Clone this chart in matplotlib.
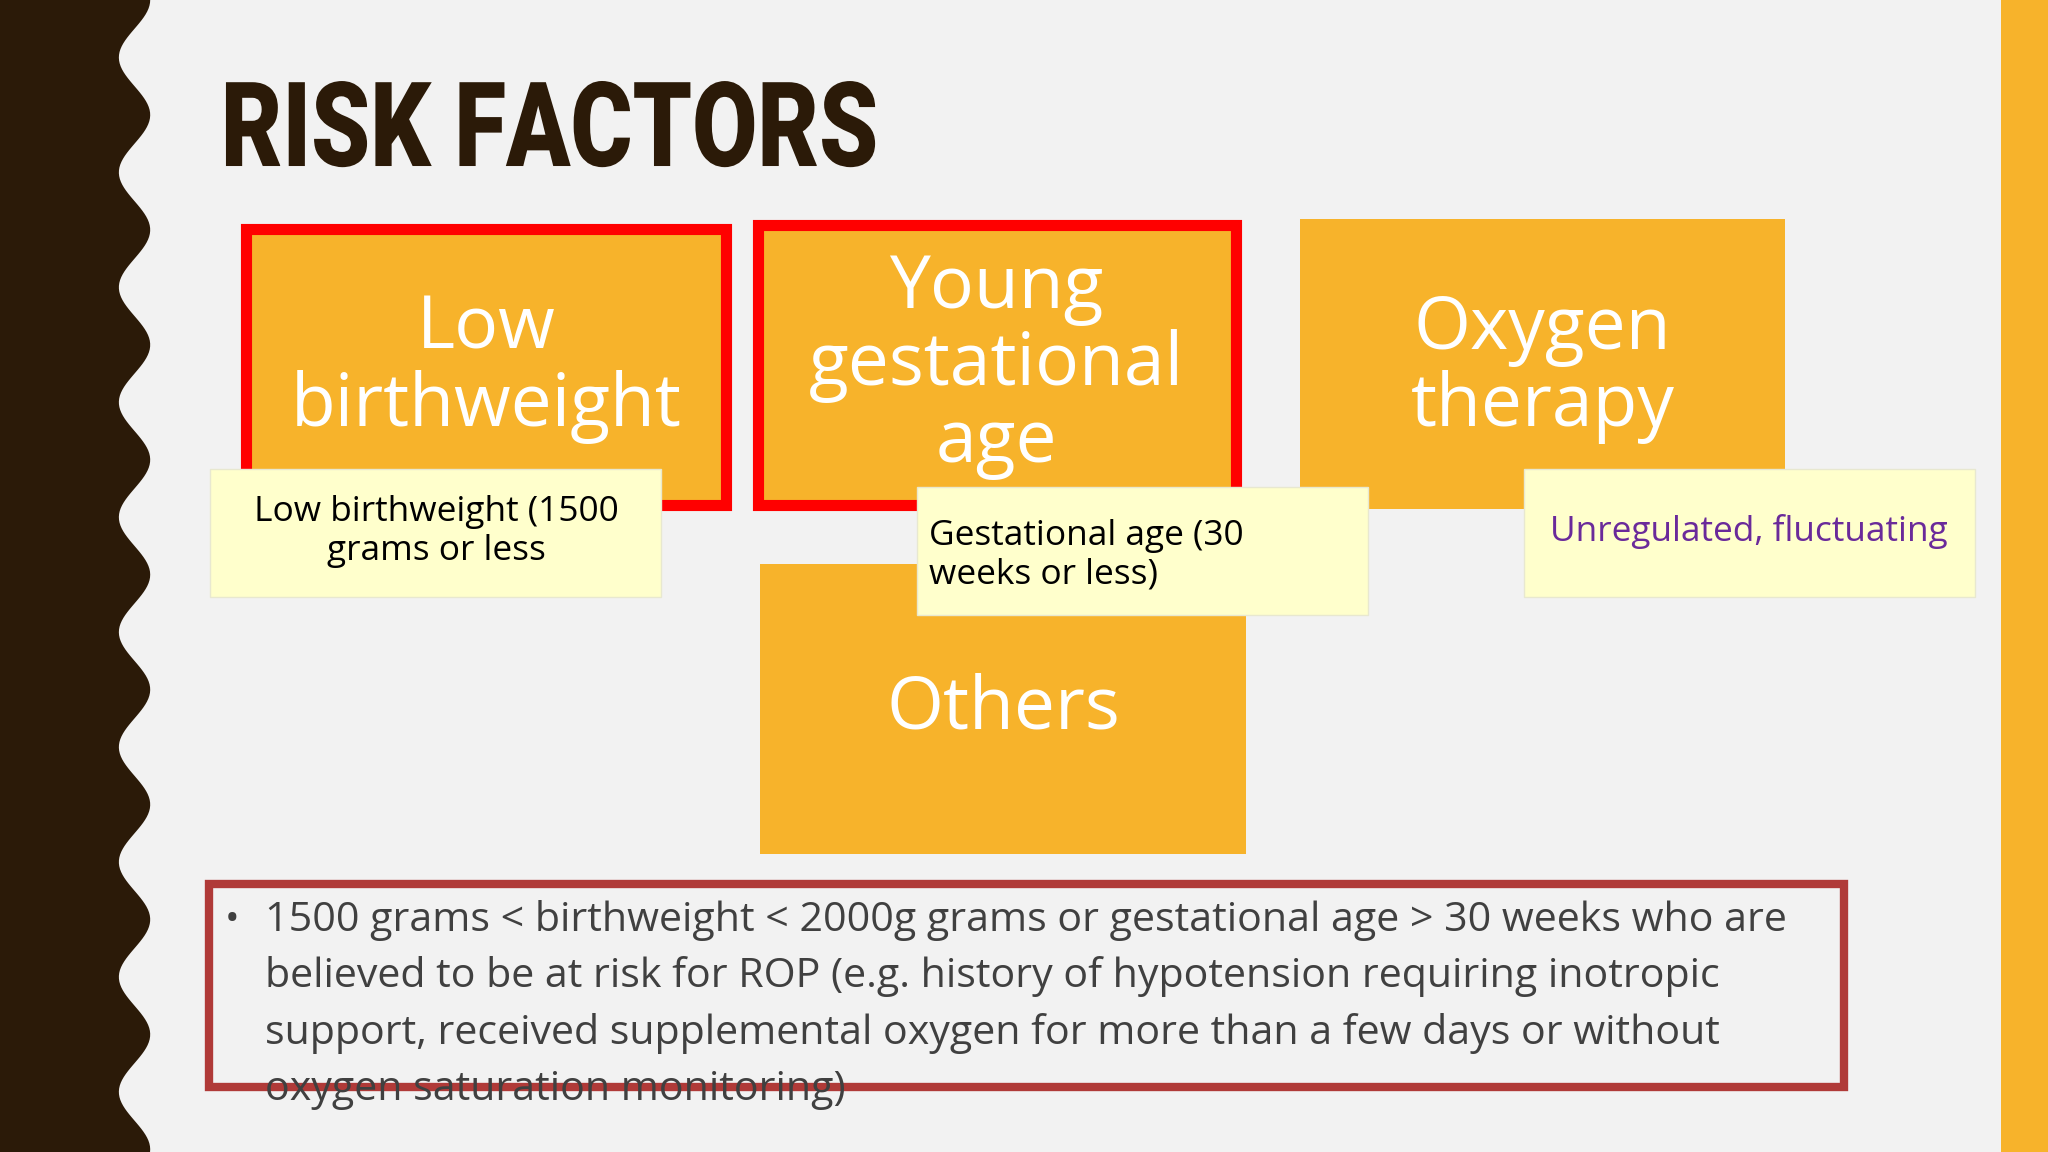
import numpy as np
import matplotlib
matplotlib.use("Agg")
import matplotlib.pyplot as plt
from matplotlib.patches import Rectangle, Polygon, PathPatch
from matplotlib.textpath import TextPath
from matplotlib.font_manager import FontProperties
from matplotlib.transforms import Affine2D

title = "RISK FACTORS"
box_labels = ["Low\nbirthweight", "Young\ngestational\nage", "Oxygen\ntherapy", "Others"]
note_labels = ["Low birthweight (1500\ngrams or less", "Gestational age (30\nweeks or less)", "Unregulated, fluctuating"]
bullet_lines = ["1500 grams < birthweight < 2000g grams or gestational age > 30 weeks who are",
                "believed to be at risk for ROP (e.g. history of hypotension requiring inotropic",
                "support, received supplemental oxygen for more than a few days or without",
                "oxygen saturation monitoring)"]

W, H = 1568, 882
fig = plt.figure(figsize=(20.48, 11.52), dpi=100)
ax = fig.add_axes([0, 0, 1, 1])
ax.set_xlim(0, W); ax.set_ylim(H, 0); ax.axis("off")
fig.patch.set_facecolor("#f2f2f2")
FONT = ["Open Sans", "DejaVu Sans"]
S = 2048 / W
pt = lambda px: px * S / (100 / 72)

ys = np.linspace(0, H, 400)
xs = 103 + 12 * np.cos(2 * np.pi * ys / 88)
ax.add_patch(Polygon(np.column_stack([np.r_[0, xs, 0], np.r_[0, ys, H]]), closed=True, fc="#2b1a08", ec="none"))
ax.add_patch(Rectangle((1532, 0), 36, H, fc="#f7b32b", ec="none"))

# condensed title via scaled text path
tp = TextPath((0, 0), title, size=1, prop=FontProperties(family="Roboto", weight="black"))
ext = tp.get_extents()
sx = (670 - 173) / ext.width
sy = (128 - 62) / ext.height
tr = Affine2D().translate(-ext.x0, -ext.y0).scale(sx, -sy).translate(173, 128)
ax.add_patch(PathPatch(tr.transform_path(tp), fc="#2b1a08", ec="none"))

orange = "#f7b32b"
boxes = [(188, 175, 368, 212, True), (580, 172, 366, 215, True), (995, 168, 372, 222, False), (582, 432, 372, 222, False)]
centers = [(372, 282), (763, 280), (1181, 282), (768, 543)]
for (x, y, w, h, red), (cx, cy), lab in zip(boxes, centers, box_labels):
    ax.add_patch(Rectangle((x, y), w, h, fc=orange, ec="red" if red else "none", lw=8 if red else 0))
    ax.text(cx, cy, lab, fontsize=pt(56), family=FONT, color="white", ha="center", va="center", linespacing=1.05)

notes = [(161, 359, 345, 98, 334, 407, "center", "black"),
         (702, 373, 345, 98, 711, 425, "left", "black"),
         (1167, 359, 345, 98, 1339, 407, "center", "#6a2a9a")]
for (x, y, w, h, tx, ty, ha, c), lab in zip(notes, note_labels):
    ax.add_patch(Rectangle((x, y), w, h, fc="#ffffcc", ec="#e8e8d0", lw=1))
    ax.text(tx, ty, lab, fontsize=pt(27), family=FONT, color=c, ha=ha, va="center", linespacing=1.2)

ax.add_patch(Rectangle((160, 677), 1252, 155, fc="none", ec="#b03a38", lw=6))
ax.text(172, 705, "•", fontsize=pt(30), family=FONT, color="#404040", va="center")
for i, line in enumerate(bullet_lines):
    ax.text(203, 705 + 43 * i, line, fontsize=pt(31.5), family=FONT, color="#404040", va="center", ha="left")

fig.savefig("out.png", dpi=100, facecolor=fig.get_facecolor())
